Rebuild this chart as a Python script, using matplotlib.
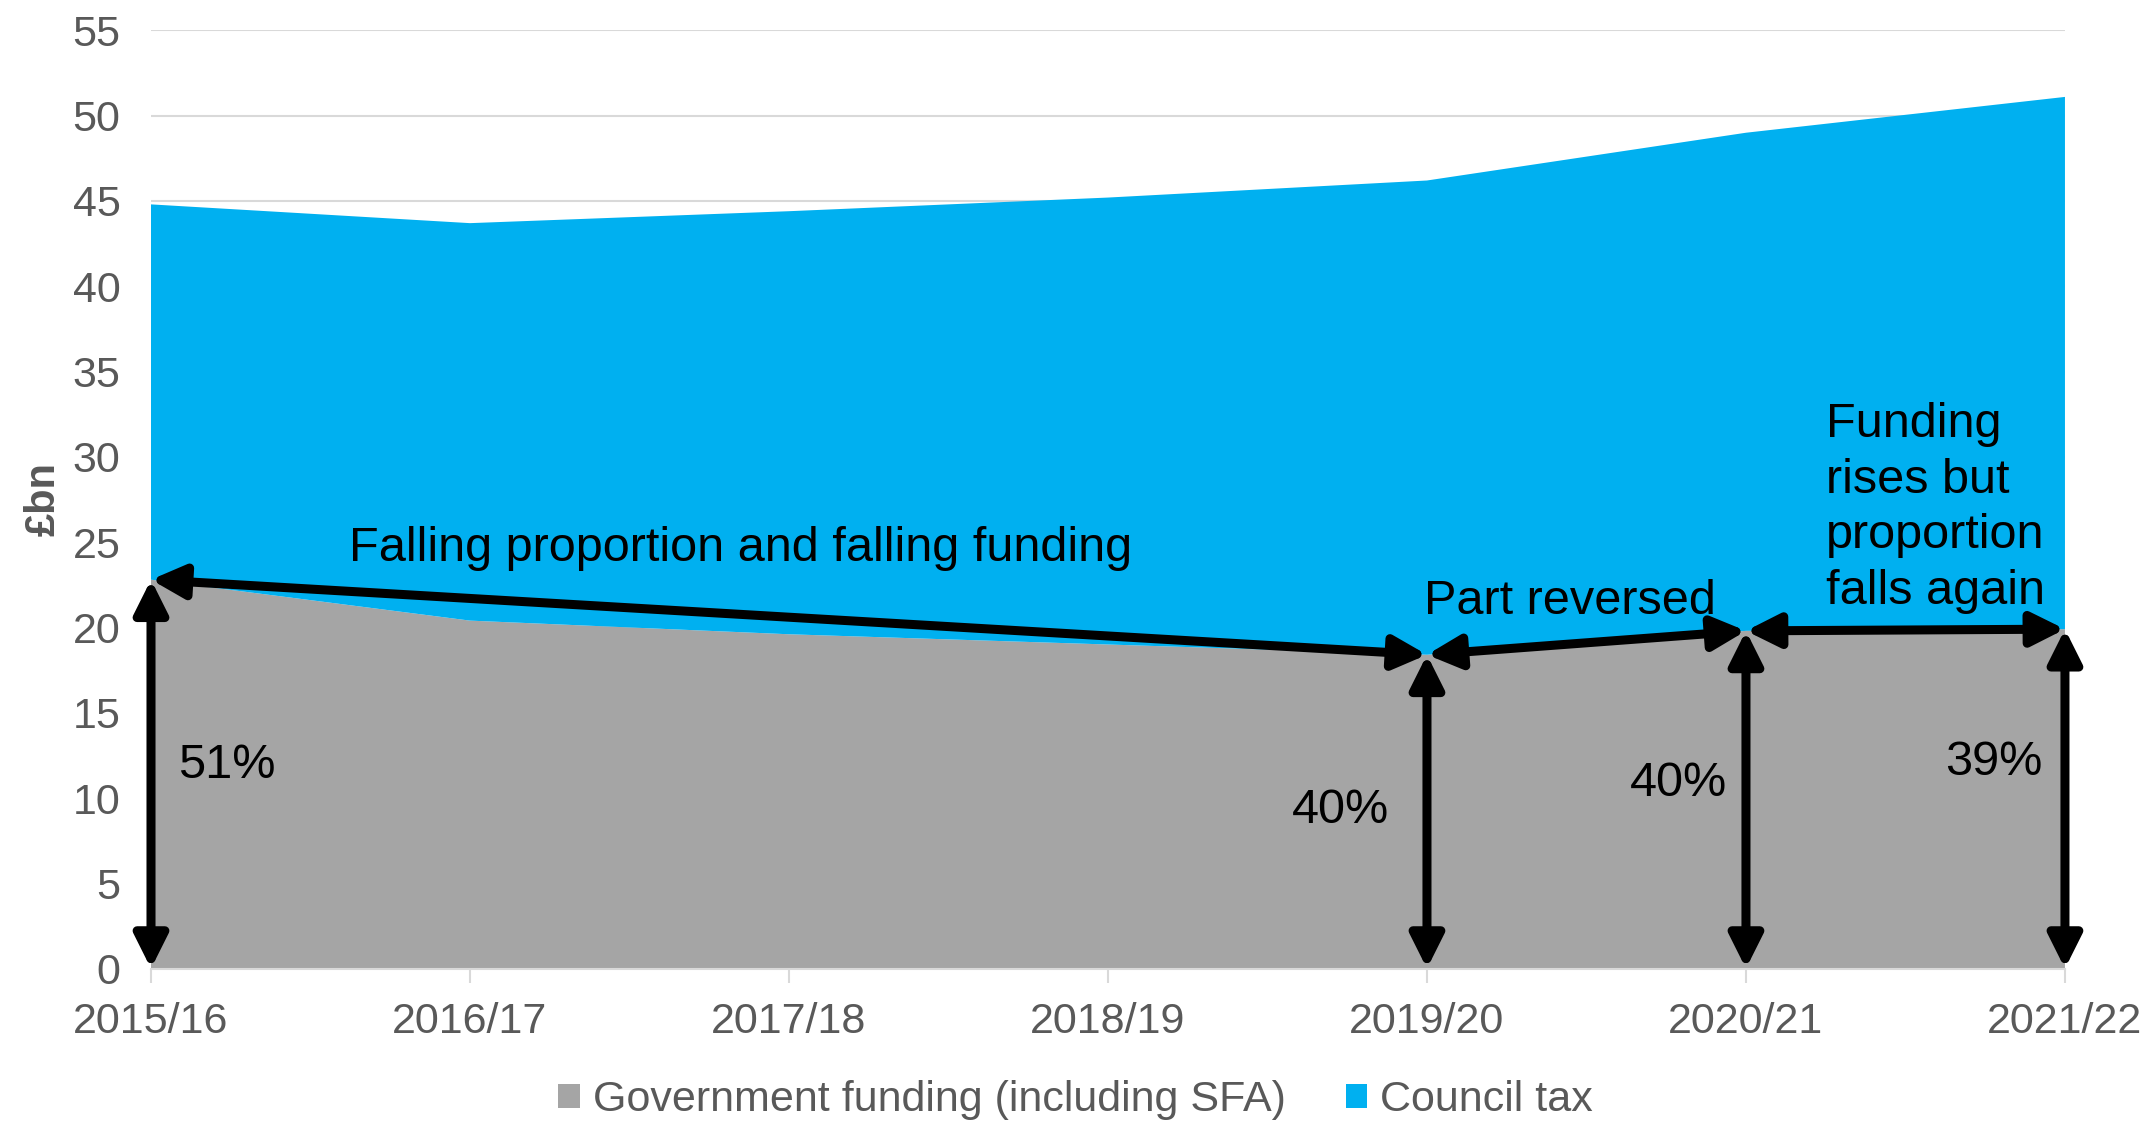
import matplotlib
matplotlib.use("Agg")
import matplotlib.pyplot as plt
from matplotlib.patches import Patch

years = ["2015/16", "2016/17", "2017/18", "2018/19", "2019/20", "2020/21", "2021/22"]
gov_funding = [22.8, 20.4, 19.6, 19.0, 18.4, 19.8, 19.9]
council_tax = [22.0, 23.3, 24.8, 26.2, 27.8, 29.2, 31.2]
pct_labels = ["51%", "40%", "40%", "39%"]
pct_idx = [0, 4, 5, 6]

GREY = "#A5A5A5"
BLUE = "#00B0F0"
TXT = "#595959"

plt.rcParams['font.family'] = ['Liberation Sans', 'DejaVu Sans']

fig = plt.figure(figsize=(21.51, 11.25), dpi=100)
ax = fig.add_axes([0.0702, 0.139, 0.8898, 0.834])

x = list(range(len(years)))
ax.stackplot(x, gov_funding, council_tax, colors=[GREY, BLUE], linewidth=0, zorder=2)

ax.set_xlim(0, len(years) - 1)
ax.set_ylim(0, 55)
ax.set_yticks(range(0, 56, 5))
ax.set_xticks(x)
ax.set_xticklabels(years)
ax.grid(axis='y', color='#D9D9D9', linewidth=1.5, zorder=0)
ax.set_axisbelow(True)
for s in ['top', 'right', 'left']:
    ax.spines[s].set_visible(False)
ax.spines['bottom'].set_color('#D9D9D9')
ax.spines['bottom'].set_linewidth(1.5)
ax.tick_params(axis='y', length=0, labelsize=31, labelcolor=TXT, pad=22)
ax.tick_params(axis='x', length=10, width=1.5, color='#D9D9D9', labelsize=31, labelcolor=TXT, pad=14)
ax.set_ylabel("£bn", fontsize=30, fontweight='bold', color=TXT, labelpad=6)

arrow_style = dict(arrowstyle='<|-|>,head_length=1.0,head_width=0.5', color='black',
                   lw=6.5, shrinkA=0, shrinkB=0, mutation_scale=20)

# vertical arrows
for i in pct_idx:
    ax.annotate("", xy=(i, 0), xytext=(i, gov_funding[i]), arrowprops=arrow_style, zorder=5,
                annotation_clip=False)

# connecting arrows
for a, b in [(0, 4), (4, 5), (5, 6)]:
    ax.annotate("", xy=(b, gov_funding[b]), xytext=(a, gov_funding[a]), arrowprops=arrow_style,
                zorder=5, annotation_clip=False)

FS = 35
ax.text(0.62, 24.6, "Falling proportion and falling funding", fontsize=FS, va='center', ha='left', zorder=6)
ax.text(3.99, 21.5, "Part reversed", fontsize=FS, va='center', ha='left', zorder=6)
ax.text(5.25, 27.0, "Funding\nrises but\nproportion\nfalls again", fontsize=FS, va='center', ha='left',
        linespacing=1.3, zorder=6)

ax.text(0.086, 11.9, pct_labels[0], fontsize=FS, va='center', ha='left', zorder=6)
ax.text(3.88, 9.25, pct_labels[1], fontsize=FS, va='center', ha='right', zorder=6)
ax.text(4.94, 10.85, pct_labels[2], fontsize=FS, va='center', ha='right', zorder=6)
ax.text(5.93, 12.1, pct_labels[3], fontsize=FS, va='center', ha='right', zorder=6)

handles = [Patch(facecolor=GREY, edgecolor='none'), Patch(facecolor=BLUE, edgecolor='none')]
labels = ["Government funding (including SFA)", "Council tax"]
leg = fig.legend(handles, labels, loc='center', bbox_to_anchor=(0.5, 0.022), ncol=2, frameon=False,
                 fontsize=31, handlelength=0.5, handleheight=0.5, handletextpad=0.3, columnspacing=1.4)
for t in leg.get_texts():
    t.set_color(TXT)

fig.savefig("out.png", dpi=100)
